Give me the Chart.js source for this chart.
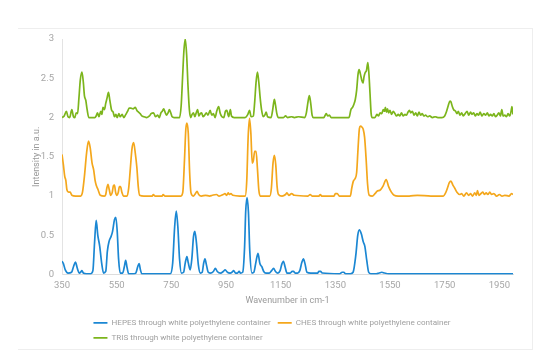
<!DOCTYPE html>
<html>
<head>
<meta charset="utf-8">
<script src="https://cdn.jsdelivr.net/npm/chart.js@4/dist/chart.umd.min.js"></script>
<style>
  html, body { margin: 0; padding: 0; background: #fff; }
  #wrap { position: relative; width: 544px; height: 358px; }
  #frame { position: absolute; left: 18px; top: 28px; width: 514px; height: 320px; border-top: 1px solid #eeeeee; border-right: 1px solid #eeeeee; border-bottom: 1px solid #eeeeee; }
  canvas { position: absolute; left: 0; top: 0; }
</style>
</head>
<body>
<div id="wrap">
  <div id="frame"></div>
  <canvas id="c" width="544" height="358"></canvas>
</div>
<script>
const seriesNames = [
  "HEPES through white polyethylene container",
  "CHES through white polyethylene container",
  "TRIS through white polyethylene container"
];
const xTickLabels = [350, 550, 750, 950, 1150, 1350, 1550, 1750, 1950];
const yTickLabels = [0, 0.5, 1, 1.5, 2, 2.5, 3];

const hepesX = [350,355,362,372,385,392,399,406,413,418,423,428,440,455,463,469,475,481,488,495,502,510,516,522,530,535,542,547,552,557,563,572,578,583,588,594,610,620,627,632,637,642,700,746,755,762,768,774,780,787,795,801,807,812,819,825,831,836,842,849,856,863,868,873,878,885,892,904,911,918,930,940,947,955,965,972,978,985,992,998,1003,1011,1018,1022,1027,1032,1037,1045,1052,1059,1067,1074,1081,1088,1096,1108,1117,1124,1131,1140,1148,1154,1160,1166,1173,1185,1192,1197,1203,1212,1220,1227,1233,1239,1246,1260,1285,1290,1296,1302,1365,1375,1381,1387,1405,1415,1425,1432,1438,1445,1452,1458,1465,1472,1480,1500,1510,1520,1530,1545,2000];
const hepesY = [0.17,0.14,0.06,0.02,0.03,0.10,0.16,0.08,0.02,0.03,0.05,0.02,0.01,0.01,0.05,0.40,0.69,0.50,0.36,0.15,0.02,0.04,0.30,0.42,0.49,0.55,0.70,0.73,0.55,0.20,0.02,0.02,0.10,0.18,0.09,0.01,0.01,0.02,0.10,0.14,0.06,0.01,0.01,0.01,0.15,0.60,0.81,0.60,0.20,0.02,0.03,0.15,0.23,0.15,0.06,0.20,0.48,0.55,0.40,0.12,0.02,0.03,0.14,0.20,0.13,0.03,0.02,0.04,0.08,0.04,0.02,0.04,0.06,0.03,0.02,0.03,0.05,0.02,0.02,0.04,0.02,0.03,0.35,0.80,0.98,0.80,0.30,0.02,0.03,0.15,0.27,0.14,0.10,0.04,0.02,0.02,0.05,0.08,0.04,0.02,0.05,0.13,0.17,0.10,0.02,0.02,0.04,0.04,0.02,0.02,0.05,0.15,0.20,0.14,0.03,0.02,0.02,0.04,0.04,0.02,0.01,0.03,0.03,0.01,0.01,0.03,0.25,0.50,0.57,0.52,0.42,0.36,0.18,0.03,0.01,0.01,0.02,0.03,0.02,0.01,0.01];

const chesX = [350,355,360,364,368,374,380,386,400,418,425,432,440,447,453,460,466,471,476,482,490,505,510,514,518,523,528,534,538,542,546,550,556,560,564,569,575,588,594,600,606,612,618,624,629,634,650,680,684,690,716,720,726,785,792,798,803,807,812,817,822,830,838,844,850,860,875,890,900,915,925,940,946,952,958,962,968,975,1000,1020,1026,1031,1036,1041,1046,1050,1055,1060,1065,1070,1075,1110,1116,1122,1127,1132,1137,1142,1155,1168,1173,1180,1190,1200,1250,1258,1265,1290,1295,1300,1345,1350,1357,1365,1405,1410,1416,1422,1428,1433,1438,1442,1447,1452,1457,1463,1468,1474,1485,1495,1502,1515,1525,1536,1545,1555,1565,1580,1620,1650,1700,1745,1752,1760,1767,1773,1780,1787,1795,1805,1812,1820,1830,1838,1845,1852,1860,1866,1870,1875,1882,1890,1895,1902,1908,1915,1922,1930,1940,1950,1960,1970,1985,1995,2000];
const chesY = [1.53,1.40,1.25,1.20,1.08,1.05,1.05,1.01,1.00,1.00,1.05,1.25,1.55,1.70,1.62,1.42,1.33,1.20,1.13,1.08,1.01,1.00,1.02,1.10,1.15,1.08,1.01,1.05,1.13,1.14,1.05,1.01,1.05,1.12,1.12,1.05,1.00,1.00,1.10,1.35,1.60,1.68,1.55,1.36,1.12,1.01,1.00,1.00,1.02,1.00,1.00,1.02,1.00,1.00,1.05,1.45,1.85,1.93,1.80,1.30,1.04,1.00,1.03,1.06,1.02,1.00,1.01,1.00,1.01,1.02,1.00,1.02,1.03,1.01,1.04,1.02,1.03,1.01,1.00,1.00,1.20,1.75,1.99,1.80,1.42,1.45,1.57,1.57,1.35,1.08,1.00,1.00,1.10,1.42,1.52,1.40,1.12,1.02,1.00,1.02,1.04,1.01,1.03,1.01,1.00,1.02,1.00,1.00,1.02,1.00,1.00,1.03,1.03,1.00,1.00,1.10,1.19,1.22,1.30,1.60,1.86,1.89,1.88,1.85,1.75,1.45,1.15,1.01,1.00,1.03,1.06,1.08,1.13,1.21,1.12,1.05,1.01,1.00,1.00,1.01,1.00,1.00,1.03,1.10,1.17,1.19,1.14,1.10,1.05,1.02,1.03,1.00,1.04,1.01,1.03,1.00,1.04,1.01,1.07,1.01,1.03,1.05,1.02,1.04,1.02,1.05,1.02,1.03,1.00,1.02,1.00,1.01,1.00,1.03,1.02];

const trisX = [350,358,366,372,378,386,392,397,402,407,412,417,423,428,432,437,442,448,470,475,480,485,492,496,500,505,510,515,520,525,531,537,542,547,552,558,563,570,576,582,590,596,602,610,618,624,630,636,642,650,660,670,676,685,692,700,706,712,717,722,727,732,738,743,748,753,760,780,786,791,796,801,806,811,816,821,826,831,836,841,846,851,856,861,866,872,878,884,892,898,904,910,916,923,929,935,942,948,953,960,966,970,980,1020,1030,1036,1042,1050,1055,1060,1065,1070,1075,1080,1086,1092,1097,1102,1115,1120,1124,1127,1131,1136,1141,1160,1168,1175,1190,1200,1215,1238,1244,1250,1255,1260,1265,1270,1308,1313,1317,1322,1328,1335,1400,1407,1413,1418,1423,1428,1433,1437,1442,1447,1451,1455,1459,1464,1469,1473,1477,1481,1485,1495,1502,1508,1514,1520,1525,1530,1533,1537,1541,1545,1550,1556,1562,1568,1574,1580,1586,1592,1598,1605,1610,1616,1621,1626,1632,1638,1644,1650,1656,1662,1668,1674,1680,1688,1695,1705,1715,1725,1740,1750,1757,1763,1769,1773,1778,1783,1790,1795,1800,1806,1812,1818,1825,1832,1838,1845,1850,1856,1862,1868,1874,1880,1886,1893,1900,1906,1912,1918,1924,1930,1936,1942,1948,1954,1959,1964,1970,1976,1982,1988,1993,1996,2000];
const trisY = [2.00,2.02,2.08,2.01,2.00,2.10,2.01,2.00,2.06,2.05,2.25,2.48,2.58,2.45,2.28,2.22,2.10,2.00,2.00,2.02,2.06,2.01,2.08,2.04,2.13,2.10,2.18,2.25,2.32,2.22,2.10,2.07,2.01,2.04,2.00,2.05,2.01,2.04,2.00,2.03,2.08,2.12,2.12,2.11,2.13,2.09,2.07,2.05,2.02,2.01,2.00,2.02,2.05,2.06,2.01,2.03,2.00,2.06,2.08,2.11,2.07,2.03,2.06,2.10,2.06,2.01,2.00,2.00,2.15,2.50,2.85,3.00,2.80,2.40,2.10,2.00,2.04,2.06,2.01,2.06,2.10,2.02,2.05,2.06,2.01,2.03,2.06,2.03,2.09,2.03,2.05,2.00,2.08,2.14,2.05,2.01,2.00,2.08,2.09,2.01,2.10,2.02,2.00,2.00,2.04,2.09,2.01,2.02,2.20,2.45,2.58,2.45,2.25,2.10,2.01,2.03,2.07,2.01,2.00,2.08,2.18,2.23,2.16,2.05,2.00,2.00,2.02,2.00,2.01,2.00,2.01,2.00,2.06,2.20,2.28,2.18,2.03,2.00,2.00,2.03,2.05,2.02,2.03,2.00,2.00,2.10,2.13,2.17,2.23,2.35,2.55,2.61,2.55,2.47,2.44,2.52,2.57,2.60,2.70,2.55,2.30,2.05,2.00,2.00,2.04,2.02,2.06,2.05,2.10,2.08,2.13,2.07,2.11,2.06,2.09,2.04,2.08,2.05,2.02,2.04,2.02,2.06,2.02,2.04,2.03,2.07,2.09,2.06,2.08,2.03,2.06,2.02,2.07,2.03,2.05,2.02,2.03,2.01,2.02,2.00,2.01,2.00,2.00,2.02,2.08,2.15,2.21,2.20,2.14,2.10,2.08,2.05,2.08,2.03,2.06,2.02,2.05,2.08,2.03,2.07,2.04,2.06,2.02,2.05,2.03,2.07,2.02,2.05,2.03,2.06,2.02,2.04,2.02,2.05,2.01,2.03,2.06,2.02,2.10,2.02,2.03,2.01,2.05,2.02,2.08,2.14,2.04];

const colors = ["#1b87d3", "#f4a71c", "#7cb51c"];
const toPts = (xs, ys) => xs.map((x, i) => ({ x: x, y: ys[i] }));
const seriesX = [hepesX, chesX, trisX];
const seriesY = [hepesY, chesY, trisY];

const legendAlign = {
  id: 'legendAlign',
  beforeDraw(chart) {
    const lg = chart.legend;
    if (lg && lg.lineWidths && lg.lineWidths.length > 1) {
      const m = Math.max(...lg.lineWidths);
      lg.lineWidths = lg.lineWidths.map(() => m);
    }
  }
};

Chart.defaults.font.family = "Roboto, 'Open Sans', sans-serif";
Chart.defaults.color = "#a6a6a6";

new Chart(document.getElementById('c'), {
  type: 'line',
  data: {
    datasets: seriesNames.map((name, i) => ({
      label: name,
      data: toPts(seriesX[i], seriesY[i]),
      borderColor: colors[i],
      backgroundColor: colors[i],
      borderWidth: 1.7,
      pointRadius: 0,
      fill: false,
      cubicInterpolationMode: 'monotone'
    }))
  },
  options: {
    responsive: false,
    animation: false,
    layout: { padding: { left: 31, right: 31, top: 39, bottom: 6 } },
    scales: {
      x: {
        type: 'linear',
        min: 350,
        max: 2000,
        afterBuildTicks(scale) { scale.ticks = xTickLabels.map(v => ({ value: v })); },
        grid: { display: false, drawTicks: false },
        border: { display: true, color: '#dddddd', width: 1 },
        ticks: { font: { size: 9.5 }, color: '#a6a6a6', padding: 5, maxRotation: 0, autoSkip: false, callback: v => String(v) },
        title: { display: true, text: 'Wavenumber in cm-1', font: { size: 9 }, color: '#9a9a9a', padding: { top: -1, bottom: 6 } }
      },
      y: {
        min: 0,
        max: 3,
        afterBuildTicks(scale) { scale.ticks = yTickLabels.map(v => ({ value: v })); },
        afterFit(scale) { scale.width = 31; },
        grid: { display: false, drawTicks: false },
        border: { display: true, color: '#e3e3e3', width: 1 },
        ticks: { font: { size: 9.5 }, color: '#a6a6a6', padding: 8, callback: v => String(v) },
        title: { display: true, text: 'Intensity in a.u.', font: { size: 9 }, color: '#9a9a9a', padding: { top: 0, bottom: 4 } }
      }
    },
    plugins: {
      legend: {
        position: 'bottom',
        align: 'center',
        labels: {
          usePointStyle: true,
          pointStyle: 'line',
          pointStyleWidth: 14,
          boxHeight: 8,
          font: { size: 8.1 },
          color: '#a0a0a0',
          padding: 7
        }
      },
      tooltip: { enabled: false }
    }
  },
  plugins: [legendAlign]
});
</script>
</body>
</html>
